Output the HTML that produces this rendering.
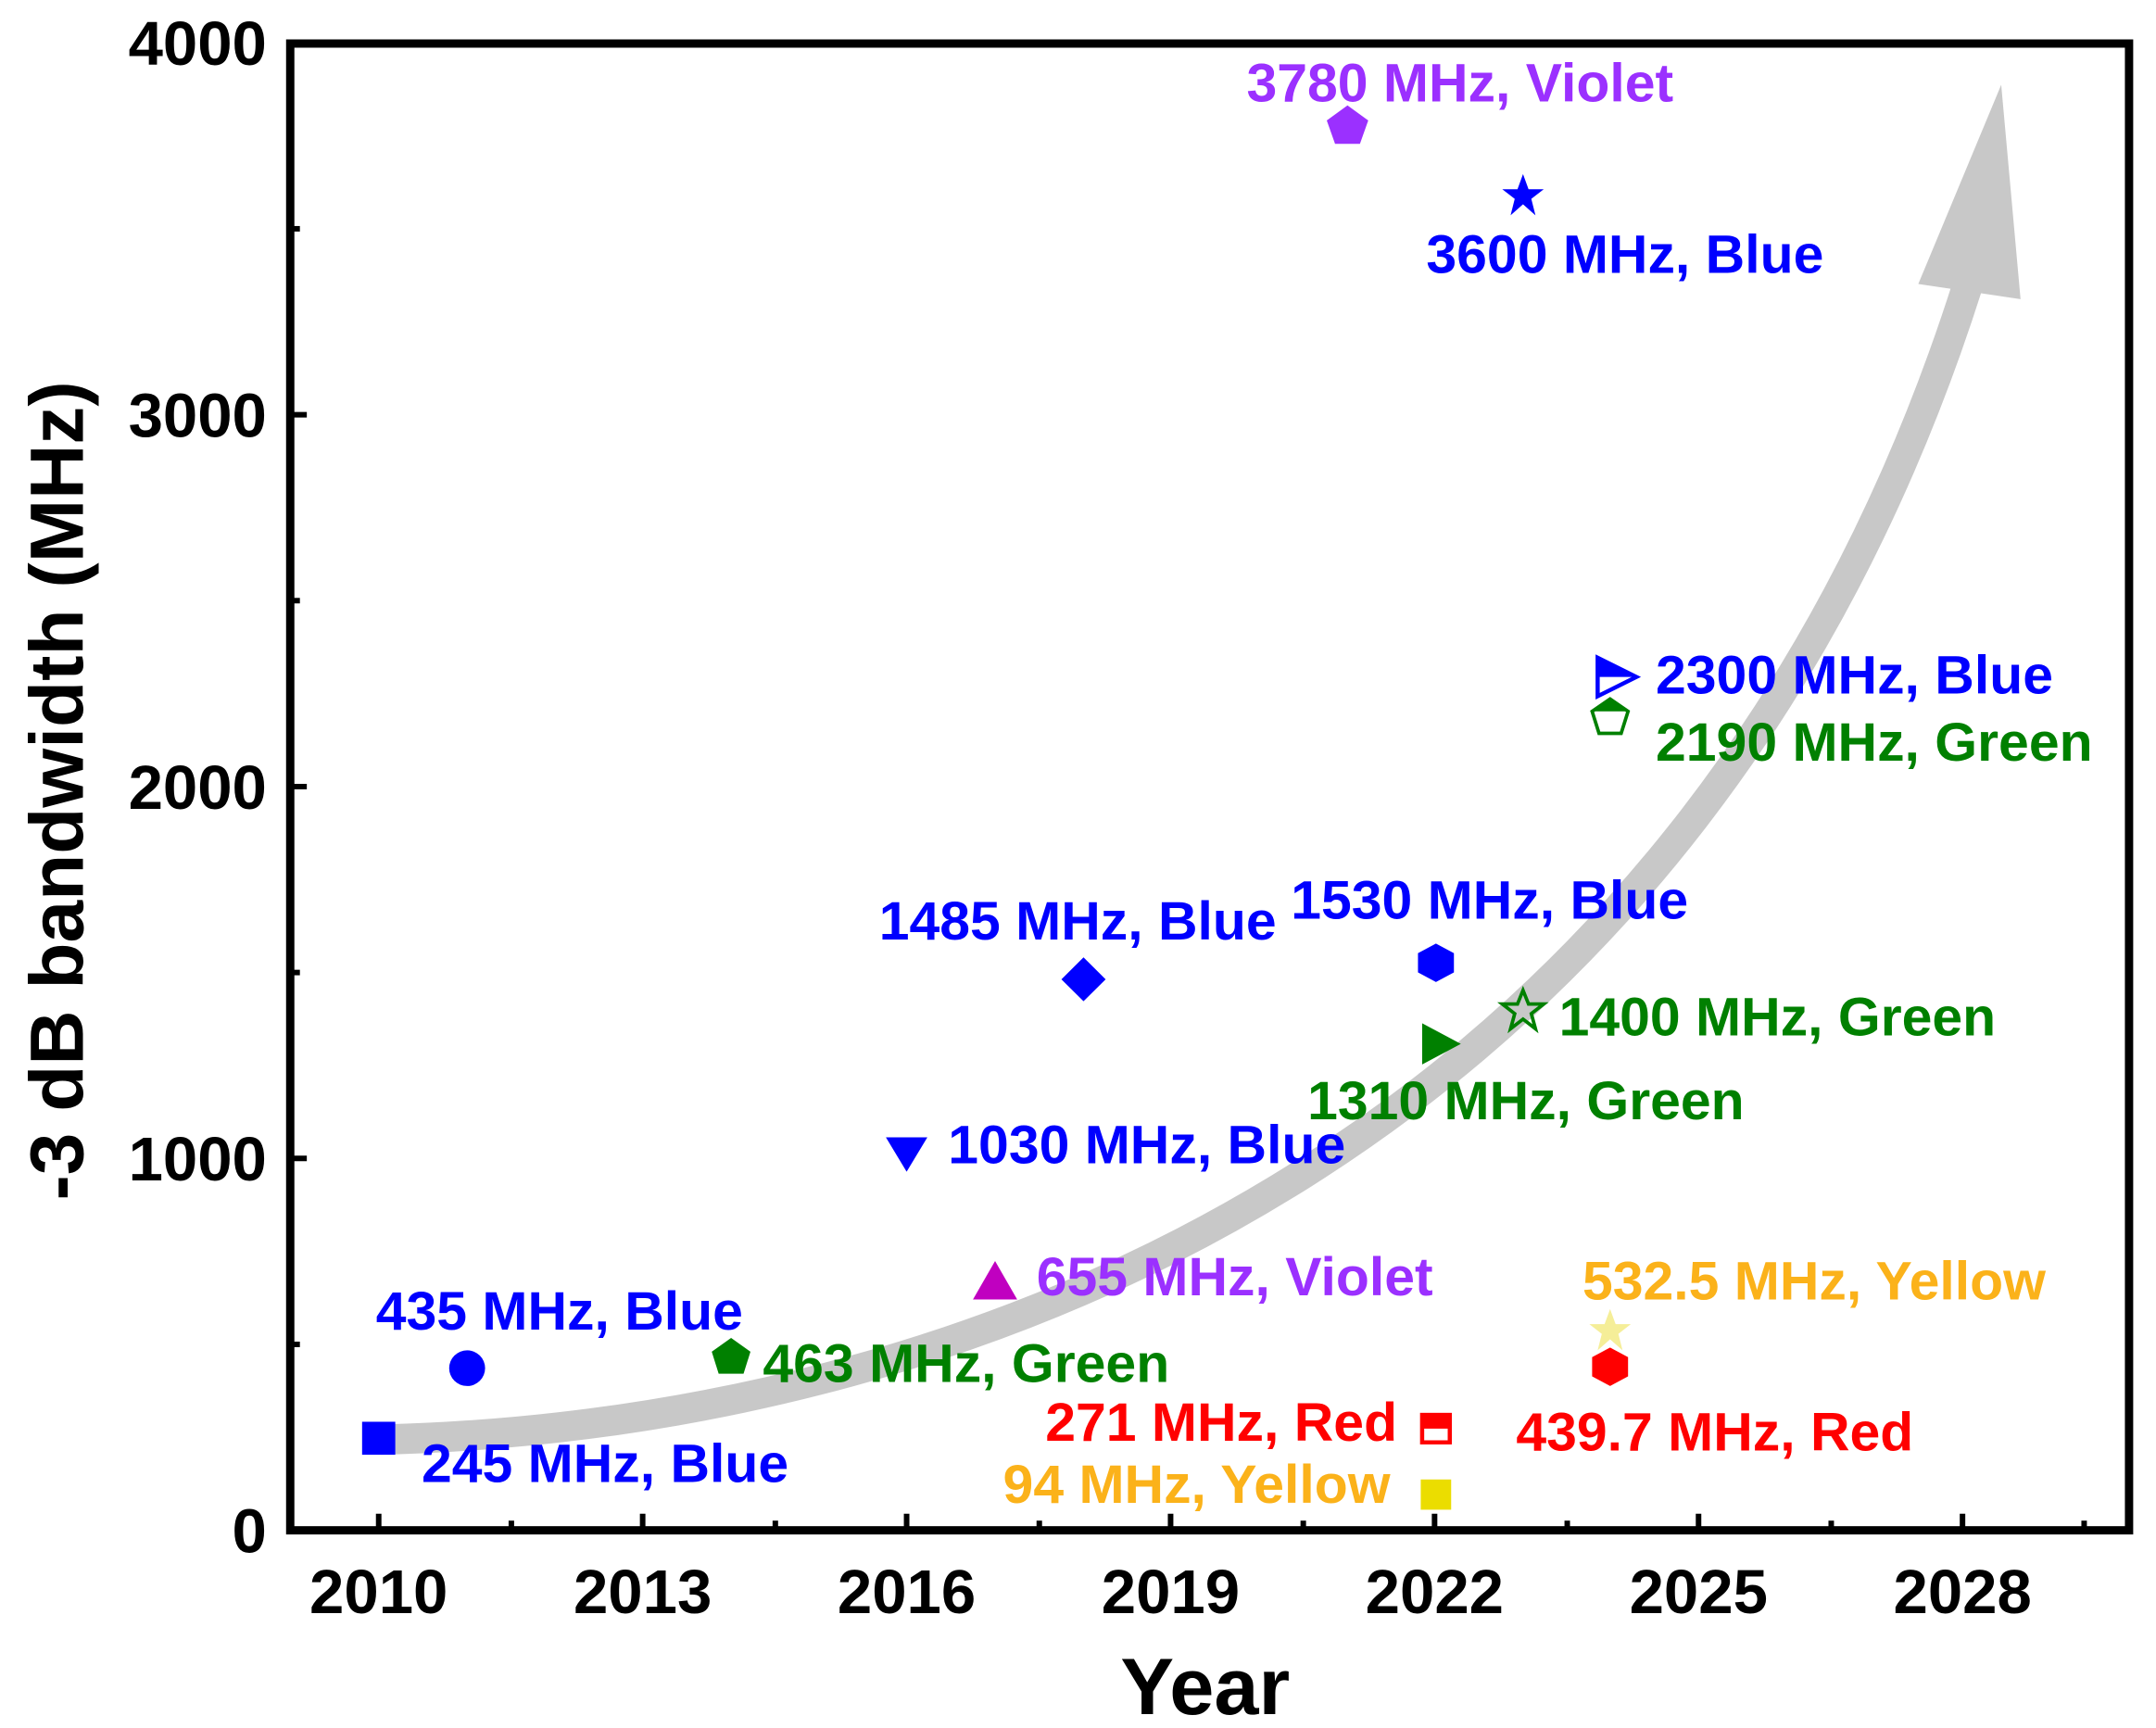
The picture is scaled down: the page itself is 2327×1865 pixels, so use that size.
<!DOCTYPE html>
<html><head><meta charset="utf-8"><style>html,body{margin:0;padding:0;background:#fff}svg{display:block}text{font-family:"Liberation Sans",Arial,sans-serif;font-weight:bold}</style></head><body>
<svg width="2327" height="1865" viewBox="0 0 1560 1250" preserveAspectRatio="none" xmlns="http://www.w3.org/2000/svg">
<rect width="1560" height="1250" fill="#fff"/>
<g transform="translate(0,1107) scale(1,0.994) translate(0,-1112)">
<path d="M275,1046 C720,1035 1230,820 1424,205" fill="none" stroke="#c8c8c8" stroke-width="22"/>
<polygon points="1448,60 1388,205 1462,216" fill="#c8c8c8"/>
<rect x="262" y="1033" width="24" height="24" fill="#0000ff"/>
<circle cx="338" cy="994" r="13" fill="#0000ff"/>
<polygon points="529,972 543,982 538,998 520,998 515,982" fill="#008000"/>
<polygon points="641,826 671,826 656,851" fill="#0000ff"/>
<polygon points="720,916 736,944 704,944" fill="#c000c0"/>
<polygon points="784,695 800,711 784,727 768,711" fill="#0000ff"/>
<polygon points="975,75 990,86 984,103 966,103 960,86" fill="#9b30ff"/>
<polygon points="1102,125 1106,136 1117,136 1108,143 1111,155 1102,147 1093,155 1096,143 1087,136 1098,136" fill="#0000ff"/>
<polygon points="1039,685 1052,692 1052,706 1039,713 1026,706 1026,692" fill="#0000ff"/>
<polygon points="1029,743 1057,758 1029,773" fill="#008000"/>
<polygon points="1102,719 1106,729 1117,729 1108,736 1111,747 1102,740 1093,747 1096,736 1087,729 1098,729" fill="none" stroke="#008000" stroke-width="2.5"/>
<rect x="1029" y="1028" width="20" height="20" fill="#fff" stroke="#ff0000" stroke-width="3"/><rect x="1029" y="1028" width="20" height="10" fill="#ff0000"/>
<rect x="1028" y="1075" width="22" height="22" fill="#ebdd00"/>
<polygon points="1165,979 1178,986 1178,1000 1165,1007 1152,1000 1152,986" fill="#ff0000"/>
<polygon points="1165,951 1169,962 1180,962 1171,969 1174,981 1165,973 1156,981 1159,969 1150,962 1161,962" fill="#f5ee98"/>
<polygon points="1156,477 1184,491 1156,505" fill="#fff" stroke="#0000ff" stroke-width="3"/><polygon points="1156,477 1184,491 1156,491" fill="#0000ff"/>
<polygon points="1165,507 1178,516 1173,532 1157,532 1152,516" fill="#fff" stroke="#008000" stroke-width="2.5"/><polygon points="1165,507 1178,516 1152,516" fill="#008000"/>
<g font-size="39.5">
<text x="305" y="1077" fill="#0000ff">245 MHz, Blue</text>
<text x="272" y="966" fill="#0000ff">435 MHz, Blue</text>
<text x="552" y="1004" fill="#008000">463 MHz, Green</text>
<text x="686" y="845" fill="#0000ff">1030 MHz, Blue</text>
<text x="750" y="941" fill="#9b30ff">655 MHz, Violet</text>
<text x="636" y="682" fill="#0000ff">1485 MHz, Blue</text>
<text x="902" y="72" fill="#9b30ff">3780 MHz, Violet</text>
<text x="1032" y="197" fill="#0000ff">3600 MHz, Blue</text>
<text x="934" y="667" fill="#0000ff">1530 MHz, Blue</text>
<text x="946" y="813" fill="#008000">1310 MHz, Green</text>
<text x="1128" y="752" fill="#008000">1400 MHz, Green</text>
<text x="1011" y="1047" fill="#ff0000" text-anchor="end">271 MHz, Red</text>
<text x="1006" y="1092" fill="#fbb21a" text-anchor="end">94 MHz, Yellow</text>
<text x="1097" y="1054" fill="#ff0000">439.7 MHz, Red</text>
<text x="1145" y="944" fill="#fbb21a">532.5 MHz, Yellow</text>
<text x="1198" y="503" fill="#0000ff">2300 MHz, Blue</text>
<text x="1198" y="552" fill="#008000">2190 MHz, Green</text>
</g>
</g>
<rect x="210" y="31.5" width="1330.5" height="1075.5" fill="none" stroke="#000" stroke-width="6"/>
<g stroke="#000" stroke-width="4">
<line x1="210" y1="838" x2="222" y2="838"/><line x1="210" y1="569" x2="222" y2="569"/><line x1="210" y1="300" x2="222" y2="300"/>
<line x1="210" y1="972.5" x2="217" y2="972.5"/><line x1="210" y1="703.5" x2="217" y2="703.5"/><line x1="210" y1="434.5" x2="217" y2="434.5"/><line x1="210" y1="165.5" x2="217" y2="165.5"/>
<line x1="274" y1="1107" x2="274" y2="1095"/><line x1="465" y1="1107" x2="465" y2="1095"/><line x1="656" y1="1107" x2="656" y2="1095"/><line x1="847" y1="1107" x2="847" y2="1095"/><line x1="1038" y1="1107" x2="1038" y2="1095"/><line x1="1229" y1="1107" x2="1229" y2="1095"/><line x1="1420" y1="1107" x2="1420" y2="1095"/>
<line x1="370" y1="1107" x2="370" y2="1100"/><line x1="561" y1="1107" x2="561" y2="1100"/><line x1="752" y1="1107" x2="752" y2="1100"/><line x1="943" y1="1107" x2="943" y2="1100"/><line x1="1134" y1="1107" x2="1134" y2="1100"/><line x1="1325" y1="1107" x2="1325" y2="1100"/><line x1="1508" y1="1107" x2="1508" y2="1100"/>
</g>
<g font-size="45" text-anchor="end"><text x="193" y="1123">0</text><text x="193" y="854">1000</text><text x="193" y="585">2000</text><text x="193" y="316">3000</text><text x="193" y="47">4000</text></g>
<g font-size="45" text-anchor="middle"><text x="274" y="1167">2010</text><text x="465" y="1167">2013</text><text x="656" y="1167">2016</text><text x="847" y="1167">2019</text><text x="1038" y="1167">2022</text><text x="1229" y="1167">2025</text><text x="1420" y="1167">2028</text></g>
<text x="872" y="1240" font-size="58" text-anchor="middle">Year</text>
<text transform="translate(60,572) rotate(-90)" font-size="55" text-anchor="middle">-3 dB bandwidth (MHz)</text>
</svg>
</body></html>
